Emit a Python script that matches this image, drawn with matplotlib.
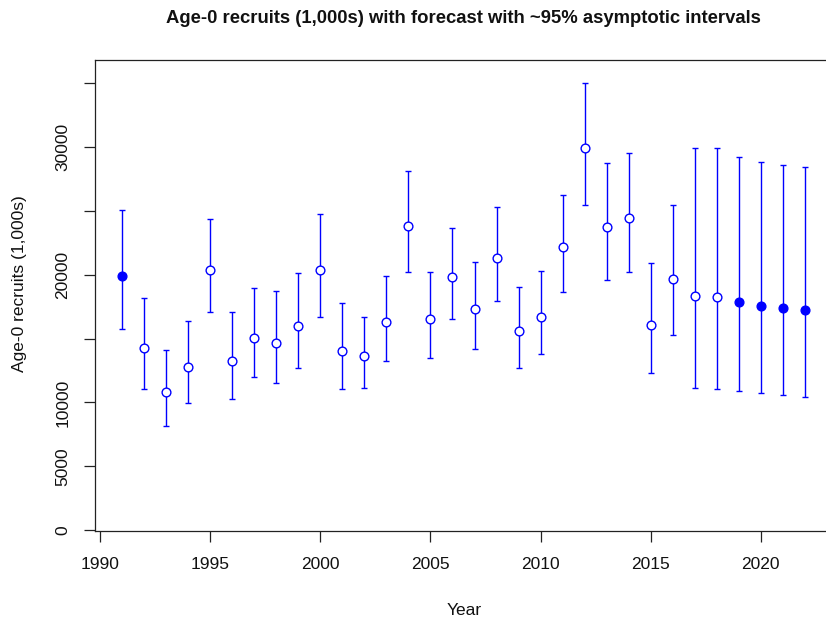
import numpy as np
import matplotlib
matplotlib.use("Agg")
import matplotlib.pyplot as plt

plt.rcParams['font.family'] = ['Liberation Sans', 'DejaVu Sans']

years = np.arange(1991, 2023)
recruits = [19880, 14230, 10800, 12750, 20380, 13240, 15040, 14670, 15980, 20330,
            14020, 13610, 16290, 23810, 16500, 19780, 17300, 21340, 15560, 16700,
            22150, 29880, 23730, 24410, 16080, 19700, 18300, 18220, 17850, 17560,
            17380, 17250]
lower = [15740, 11050, 8190, 9940, 17050, 10250, 11970, 11520, 12670, 16700,
         11050, 11110, 13240, 20170, 13450, 16500, 14180, 17950, 12670, 13790,
         18660, 25480, 19590, 20170, 12330, 15270, 11160, 11080, 10880, 10720,
         10560, 10430]
upper = [25090, 18190, 14120, 16340, 24360, 17070, 18970, 18690, 20140, 24750,
         17750, 16660, 19910, 28110, 20220, 23690, 21030, 25270, 19020, 20270,
         26210, 34980, 28710, 29550, 20950, 25430, 29940, 29910, 29230, 28810,
         28580, 28400]
# filled points: first year and the forecast years
filled_years = [1991, 2019, 2020, 2021, 2022]

y_ticks = [0, 5000, 10000, 15000, 20000, 25000, 30000, 35000]
y_tick_labels = ['0', '5000', '10000', '', '20000', '', '30000', '']
x_ticks = [1990, 1995, 2000, 2005, 2010, 2015, 2020]

recruits = np.array(recruits)
lower = np.array(lower)
upper = np.array(upper)
filled = np.isin(years, filled_years)

fig = plt.figure(figsize=(8.26, 6.23), dpi=100)
ax = fig.add_axes([95 / 826, 1 - 531 / 623, 737 / 826, 471 / 623])

ax.errorbar(years, recruits, yerr=[recruits - lower, upper - recruits],
            fmt='none', ecolor='#0000ff', elinewidth=1.0, capsize=2, capthick=1.0)
ax.plot(years[~filled], recruits[~filled], 'o', mfc='white', mec='#0000ff',
        mew=1.0, ms=6.3, ls='none')
ax.plot(years[filled], recruits[filled], 'o', mfc='#0000ff', mec='#0000ff',
        mew=1.0, ms=6.3, ls='none')

ax.set_xlim(1989.76, 2023.24)
ax.set_ylim(-60, 36800)
ax.set_xticks(x_ticks)
ax.set_yticks(y_ticks)
ax.set_yticklabels(y_tick_labels, rotation=90, va='center')

for s in ax.spines.values():
    s.set_color('#222222')
    s.set_linewidth(0.9)
ax.spines['right'].set_visible(False)

ax.tick_params(axis='both', direction='out', length=7.6, width=0.9,
               color='#222222', labelsize=12.5, labelcolor='#111111')
ax.tick_params(axis='x', pad=11)
ax.tick_params(axis='y', pad=10)

fig.text(463.7 / 826, 1 - 22.7 / 623,
         'Age-0 recruits (1,000s) with forecast with ~95% asymptotic intervals',
         ha='center', va='baseline', fontsize=13.3, fontweight='bold', color='#111111')
fig.text(464 / 826, 1 - 615 / 623, 'Year', ha='center', va='baseline',
         fontsize=12.5, color='#111111')
fig.text(20 / 826, 1 - 284 / 623, 'Age-0 recruits (1,000s)', ha='center',
         va='center', rotation=90, fontsize=12.5, color='#111111')

fig.savefig('out.png', dpi=100)
